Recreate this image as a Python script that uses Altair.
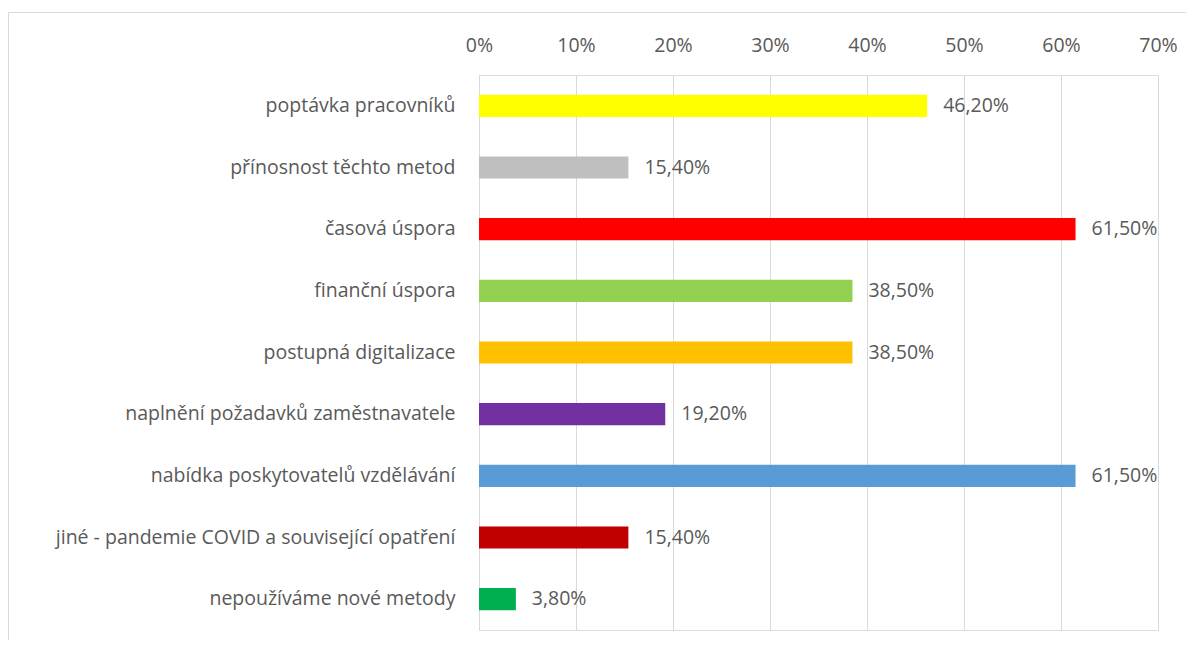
import altair as alt
import pandas as pd

categories = [
    "poptávka pracovníků",
    "přínosnost těchto metod",
    "časová úspora",
    "finanční úspora",
    "postupná digitalizace",
    "naplnění požadavků zaměstnavatele",
    "nabídka poskytovatelů vzdělávání",
    "jiné - pandemie COVID a související opatření",
    "nepoužíváme nové metody",
]
values = [46.2, 15.4, 61.5, 38.5, 38.5, 19.2, 61.5, 15.4, 3.8]
colors = ["#FFFF00", "#BFBFBF", "#FF0000", "#92D050", "#FFC000",
          "#7030A0", "#5B9BD5", "#C00000", "#00B050"]
tick_values = [0, 10, 20, 30, 40, 50, 60, 70]

df = pd.DataFrame({
    "cat": categories,
    "val": values,
    "color": colors,
    "label": [f"{v:.2f}".replace(".", ",") + "%" for v in values],
})

FONT = "Open Sans"
FS = 19.5
TXT = "#595959"

x = alt.X("val:Q", scale=alt.Scale(domain=[0, 70], nice=False),
          axis=alt.Axis(orient="top", values=tick_values, labelExpr="datum.value + '%'",
                        title=None, domain=False, ticks=False, grid=True, labelFlush=False,
                        gridColor="#D9D9D9", gridWidth=1, labelFont=FONT,
                        labelFontSize=FS, labelColor=TXT, labelPadding=20))
y = alt.Y("cat:N", sort=categories, scale=alt.Scale(paddingInner=0.64, paddingOuter=0.32),
          axis=alt.Axis(title=None, domain=False, ticks=False, labelFont=FONT,
                        labelFontSize=FS, labelColor=TXT, labelPadding=24, labelLimit=600))

bars = alt.Chart(df).mark_bar().encode(x=x, y=y, color=alt.Color("color:N", scale=None))
texts = alt.Chart(df).mark_text(align="left", baseline="middle", dx=16, font=FONT,
                                fontSize=FS, color=TXT).encode(
    x="val:Q", y=alt.Y("cat:N", sort=categories), text="label:N")
frame = pd.DataFrame({"k": [0]})
top_edge = alt.Chart(frame).mark_rule(color="#D9D9D9", strokeWidth=1).encode(
    x=alt.value(-470.5), x2=alt.value(1000), y=alt.value(-62.5))
left_edge = alt.Chart(frame).mark_rule(color="#D9D9D9", strokeWidth=1).encode(
    x=alt.value(-470.5), y=alt.value(-62.5), y2=alt.value(700))

chart = alt.layer(top_edge, left_edge, bars, texts).properties(
    width=679, height=555,
    autosize=alt.AutoSizeParams(type="none"),
    padding={"left": 471, "top": 67, "right": 28, "bottom": 10},
).configure_view(stroke=None).configure(background="white")

chart.save("out.html", embed_options={"renderer": "svg", "actions": False})
